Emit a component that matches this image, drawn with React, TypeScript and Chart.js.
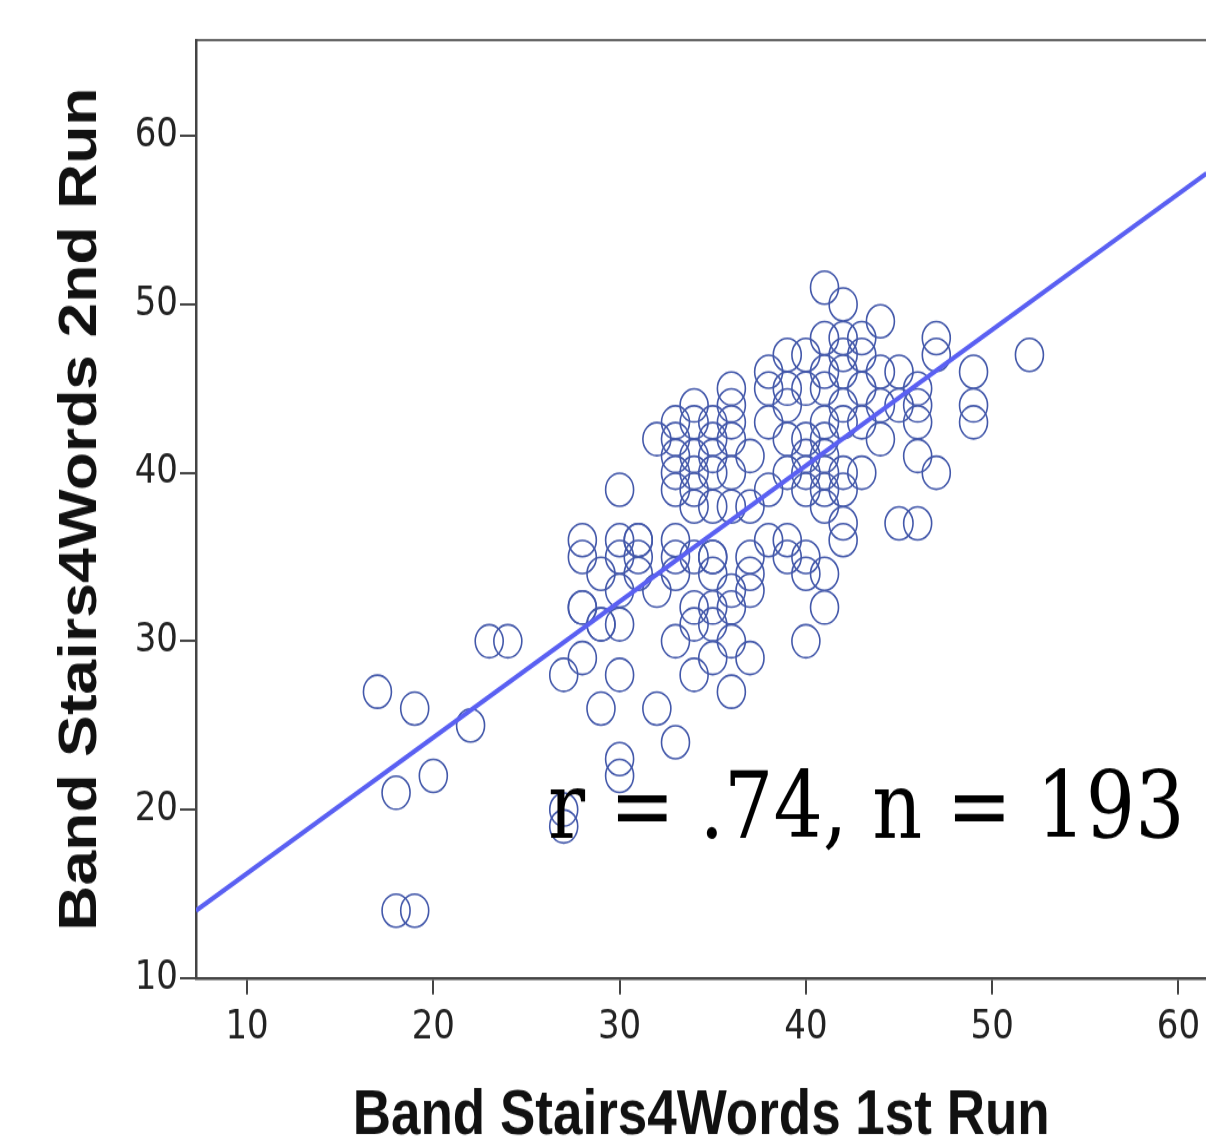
import React, { useEffect, useRef } from "react";
import { Chart, registerables } from "chart.js";

Chart.register(...registerables);

// ---- data ----
const firstRun: number[] = [
  17, 18, 18, 19, 19, 20, 22, 23, 24,
  27, 27, 27,
  28, 28, 28, 28, 28,
  29, 29, 29, 29,
  30, 30, 30, 30, 30, 30, 30, 30,
  31, 31, 31, 31,
  32, 32, 32,
  33, 33, 33, 33, 33, 33, 33, 33, 33, 33,
  34, 34, 34, 34, 34, 34, 34, 34, 34, 34,
  35, 35, 35, 35, 35, 35, 35, 35, 35, 35, 35,
  36, 36, 36, 36, 36, 36, 36, 36, 36, 36,
  37, 37, 37, 37, 37, 37,
  38, 38, 38, 38, 38,
  39, 39, 39, 39, 39, 39, 39,
  40, 40, 40, 40, 40, 40, 40, 40, 40,
  41, 41, 41, 41, 41, 41, 41, 41, 41, 41, 41, 41,
  42, 42, 42, 42, 42, 42, 42, 42, 42, 42,
  43, 43, 43, 43, 43,
  44, 44, 44, 44,
  45, 45, 45,
  46, 46, 46, 46, 46,
  47, 47, 47,
  49, 49, 49,
  52,
];
const secondRun: number[] = [
  27, 21, 14, 26, 14, 22, 25, 30, 30,
  28, 20, 19,
  36, 35, 32, 32, 29,
  34, 31, 31, 26,
  39, 36, 35, 33, 31, 28, 23, 22,
  36, 36, 35, 34,
  42, 33, 26,
  43, 42, 41, 40, 39, 36, 35, 34, 30, 24,
  44, 43, 41, 40, 39, 38, 35, 32, 31, 28,
  43, 42, 41, 40, 38, 35, 35, 34, 32, 31, 29,
  45, 44, 43, 42, 40, 38, 33, 32, 30, 27,
  41, 38, 35, 34, 33, 29,
  46, 45, 43, 39, 36,
  47, 45, 44, 42, 40, 36, 35,
  47, 45, 42, 41, 40, 39, 35, 34, 30,
  51, 48, 46, 45, 43, 42, 41, 40, 39, 38, 34, 32,
  50, 48, 47, 46, 44, 43, 40, 39, 37, 36,
  48, 47, 45, 43, 40,
  49, 46, 44, 42,
  46, 44, 37,
  45, 44, 43, 41, 37,
  48, 47, 40,
  46, 44, 43,
  47,
];
const fitIntercept = 8.14;
const fitSlope = 0.807;
const xTicks: number[] = [10, 20, 30, 40, 50, 60];
const yTicks: number[] = [10, 20, 30, 40, 50, 60];
const xMin = 7.26;
const xMax = 61.5;
const yMin = 10;
const yMax = 65.7;
const xTitle = "Band Stairs4Words 1st Run";
const yTitle = "Band Stairs4Words 2nd Run";
const statText = "r = .74, n = 193";

// ---- layout ----
const W = 1206;
const W_INNER = 1222; // chart is cropped on the right like the reference
const FULL_H = 1145;
const STRETCH = 1.18;
const H = FULL_H / STRETCH;
const TOP_H = 40 / STRETCH;
const BOTTOM_H = H - 978 / STRETCH;
const LEFT_W = 196;

const statPlugin = {
  id: "statText",
  afterDatasetsDraw(chart: any) {
    const ctx = chart.ctx;
    ctx.save();
    ctx.font = "77.6px 'DejaVu Serif'";
    ctx.fillStyle = "#000";
    ctx.textAlign = "left";
    ctx.textBaseline = "alphabetic";
    ctx.fillText(statText, 548, 838 / STRETCH);
    ctx.restore();
  },
};

export default function App() {
  const ref = useRef<HTMLCanvasElement | null>(null);
  useEffect(() => {
    if (!ref.current) return;
    document.documentElement.style.overflow = "hidden";
    document.body.style.overflow = "hidden";
    const points = firstRun.map((x, i) => ({ x, y: secondRun[i] }));
    const fitLine = [xMin, xMax].map((x) => ({ x, y: fitIntercept + fitSlope * x }));
    const tickFont = { family: "'DejaVu Sans', sans-serif", size: 34 };
    const titleFont = { family: "'Liberation Sans', Arial, sans-serif", size: 53, weight: "bold" as const, lineHeight: 0.9 };
    const chart = new Chart(ref.current, {
      type: "scatter",
      data: {
        datasets: [
          {
            type: "line",
            data: fitLine,
            borderColor: "#5a60f2",
            borderWidth: 4,
            pointRadius: 0,
            fill: false,
            order: 0,
          } as any,
          {
            data: points,
            pointStyle: "circle",
            pointRadius: 14,
            pointBorderWidth: 1.6,
            borderColor: "#4358aa",
            backgroundColor: "rgba(0,0,0,0)",
            order: 1,
          } as any,
        ],
      },
      options: {
        animation: false,
        responsive: true,
        maintainAspectRatio: false,
        layout: { padding: 0 },
        plugins: { legend: { display: false }, tooltip: { enabled: false } },
        scales: {
          x: {
            type: "linear",
            position: "bottom",
            min: xMin,
            max: xMax,
            afterBuildTicks: (s: any) => {
              s.ticks = xTicks.map((v) => ({ value: v }));
            },
            afterFit: (s: any) => {
              s.height = BOTTOM_H;
              s.paddingLeft = 0;
              s.paddingRight = 0;
            },
            ticks: { font: tickFont, color: "#222", padding: 8, maxRotation: 0 },
            grid: { display: true, drawOnChartArea: false, drawTicks: true, tickLength: 14, color: "#444", lineWidth: 2 },
            border: { display: true, color: "#444", width: 2.5 },
            title: { display: true, text: xTitle, font: titleFont, color: "#111", padding: 0 },
          },
          x2: {
            type: "linear",
            position: "top",
            min: xMin,
            max: xMax,
            afterFit: (s: any) => {
              s.height = TOP_H;
              s.paddingLeft = 0;
              s.paddingRight = 0;
            },
            ticks: { display: false },
            grid: { display: false },
            border: { display: true, color: "#666", width: 2 },
          },
          y: {
            type: "linear",
            position: "left",
            min: yMin,
            max: yMax,
            afterBuildTicks: (s: any) => {
              s.ticks = yTicks.map((v) => ({ value: v }));
            },
            afterFit: (s: any) => {
              s.width = LEFT_W;
            },
            ticks: { font: tickFont, color: "#222", padding: 2 },
            grid: { display: true, drawOnChartArea: false, drawTicks: true, tickLength: 16, color: "#444", lineWidth: 2 },
            border: { display: true, color: "#444", width: 2.5 },
            title: { display: true, text: yTitle, font: titleFont, color: "#111", padding: { top: 58, bottom: 0 } },
          },
        },
      } as any,
      plugins: [statPlugin],
    });
    return () => chart.destroy();
  }, []);

  return (
    <div
      style={{
        position: "fixed",
        left: 0,
        top: 0,
        width: W,
        height: FULL_H,
        overflow: "hidden",
        background: "#fff",
      }}
    >
      <div
        style={{
          position: "absolute",
          left: 0,
          top: 0,
          width: W_INNER,
          height: H,
          transform: `scaleY(${STRETCH})`,
          transformOrigin: "top left",
        }}
      >
        <canvas ref={ref} />
      </div>
    </div>
  );
}
